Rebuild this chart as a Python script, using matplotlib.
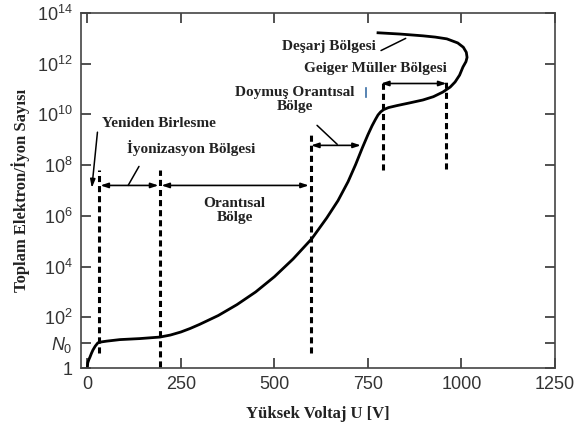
import matplotlib
matplotlib.use("Agg")
import matplotlib.pyplot as plt

# curve: voltage (V) vs log10 of total electron/ion count (goes back on itself at the top)
volt = [0, 1, 4, 7, 11, 15, 21, 28, 38, 52, 87, 140, 194, 222, 250, 275, 300, 350,
        400, 450, 500, 550, 600, 640, 670, 697, 717, 735, 750, 761, 770, 777, 784,
        792, 805, 828, 860, 897, 925, 950, 970, 983, 995, 1004, 1012, 1015, 1013,
        1005, 990, 961, 930, 897, 836, 777]
log_n = [0, 0.2, 0.33, 0.43, 0.58, 0.71, 0.86, 0.99, 1.03, 1.06, 1.12, 1.16, 1.22,
         1.3, 1.42, 1.56, 1.72, 2.07, 2.5, 3.0, 3.6, 4.3, 5.1, 5.92, 6.6, 7.35,
         8.02, 8.68, 9.2, 9.55, 9.8, 9.98, 10.1, 10.19, 10.27, 10.35, 10.45, 10.57,
         10.7, 10.88, 11.08, 11.28, 11.55, 11.87, 12.08, 12.25, 12.45, 12.65, 12.82,
         12.98, 13.05, 13.1, 13.17, 13.22]

# region boundaries (dashed verticals): x, y_bottom, y_top
bound_x = [32, 194, 598, 790, 960]
bound_y0 = [0.6, 0.05, 0.6, 7.8, 7.85]
bound_y1 = [7.8, 7.8, 9.2, 11.3, 11.3]

# double arrows spanning each region: x_start, x_end, y
span_x0 = [35, 198, 598, 785]
span_x1 = [190, 592, 731, 960]
span_y = [7.2, 7.2, 8.78, 11.22]

ytick_pos = [0, 1, 2, 4, 6, 8, 10, 12, 14]
ytick_lab = ['1', '$N_0$', '$10^2$', '$10^4$', '$10^6$', '$10^8$', '$10^{10}$',
             '$10^{12}$', '$10^{14}$']
xtick_pos = [0, 250, 500, 750, 1000, 1250]

plt.rcParams['font.family'] = ['Liberation Sans', 'DejaVu Sans']
plt.rcParams['mathtext.fontset'] = 'custom'
plt.rcParams['mathtext.rm'] = 'Liberation Sans'
plt.rcParams['mathtext.it'] = 'Liberation Sans:italic'

fig = plt.figure(figsize=(5.76, 4.25), dpi=100)
ax = fig.add_axes([0.1406, 0.1341, 0.8229, 0.8353])

ax.plot(volt, log_n, color='black', lw=2, solid_joinstyle='round')

for x, a, b in zip(bound_x, bound_y0, bound_y1):
    ax.plot([x, x], [a, b], color='black', lw=2.2, ls=(0, (2, 1.3)))

for a, b, y in zip(span_x0, span_x1, span_y):
    ax.annotate('', xy=(b, y), xytext=(a, y),
                arrowprops=dict(arrowstyle='<|-|>,head_length=0.45,head_width=0.15',
                                color='black', lw=1.2, shrinkA=0, shrinkB=0))

txt = dict(family=['Liberation Serif', 'DejaVu Serif'], fontweight='bold',
           fontsize=11, color='#222222')
lab = dict(txt, fontsize=12)
ptr = dict(arrowstyle='-', color='black', lw=1.1, shrinkA=0, shrinkB=0)

ax.text(40, 9.65, 'Yeniden Birlesme', ha='left', va='center', **txt)
ax.annotate('', xy=(12, 7.1), xytext=(27, 9.3),
            arrowprops=dict(arrowstyle='-|>,head_length=0.5,head_width=0.15',
                            color='black', lw=1.1, shrinkA=0, shrinkB=0))
ax.text(277, 8.66, 'İyonizasyon Bölgesi', ha='center', va='center', **txt)
ax.annotate('', xy=(109, 7.2), xytext=(138, 7.95), arrowprops=ptr)
ax.text(394, 6.22, 'Orantısal\nBölge', ha='center', va='center',
        linespacing=1.1, **txt)
ax.text(555, 10.6, 'Doymuş Orantısal\nBölge', ha='center', va='center',
        linespacing=1.1, **txt)
ax.annotate('', xy=(668, 8.82), xytext=(614, 9.57), arrowprops=ptr)
ax.text(771, 11.8, 'Geiger Müller Bölgesi', ha='center', va='center', **txt)
ax.text(646, 12.68, 'Deşarj Bölgesi', ha='center', va='center', **txt)
ax.annotate('', xy=(851, 13.0), xytext=(785, 12.52), arrowprops=ptr)
ax.plot([745, 745], [10.67, 11.06], color='#3a6ea5', lw=1.2)

ax.set_xlim(-17, 1250)
ax.set_ylim(0, 14)
ax.set_xticks(xtick_pos)
ax.set_yticks(ytick_pos)
ax.set_yticklabels(ytick_lab)
ax.tick_params(direction='in', length=7, width=1.2, labelsize=13,
               colors='#333333', top=True, right=True, pad=6)
for s in ax.spines.values():
    s.set_color('#444444')
    s.set_linewidth(1.2)

ax.set_xlabel('Yüksek Voltaj U [V]', labelpad=9, **lab)
ax.set_ylabel('Toplam Elektron/İyon Sayısı', labelpad=5, **lab)

fig.savefig('out.png', dpi=100)
